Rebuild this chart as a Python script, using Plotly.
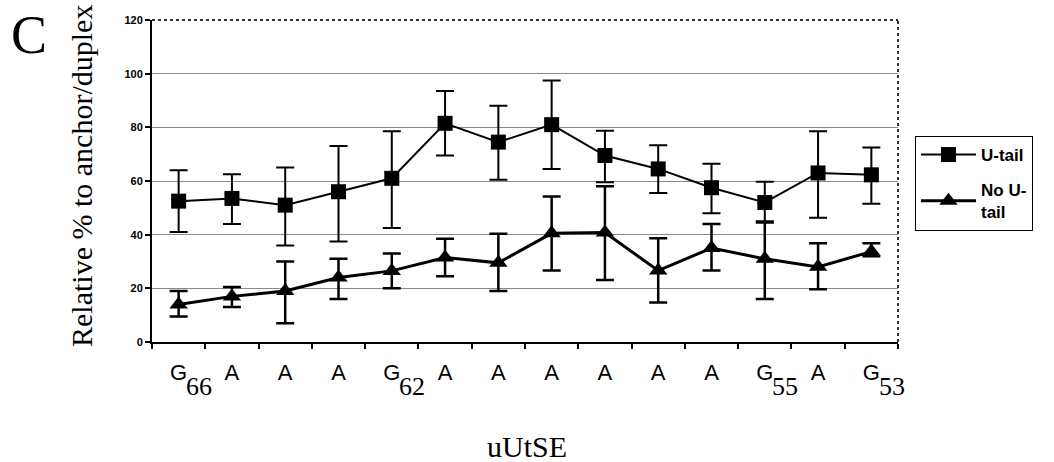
import plotly.graph_objects as go

categories = ["G66", "A", "A", "A", "G62", "A", "A", "A", "A", "A", "A", "G55", "A", "G53"]
tick_main = ["G", "A", "A", "A", "G", "A", "A", "A", "A", "A", "A", "G", "A", "G"]
tick_sub = ["66", "", "", "", "62", "", "", "", "", "", "", "55", "", "53"]

utail = [52.5, 53.5, 51, 56, 61, 81.5, 74.5, 81, 69.5, 64.5, 57.5, 52, 63, 62.3]
utail_hi = [64, 62.5, 65, 73, 78.5, 93.5, 88, 97.5, 78.7, 73.3, 66.4, 59.7, 78.5, 72.5]
utail_lo = [41, 44, 36, 37.5, 42.5, 69.5, 60.5, 64.5, 59.5, 55.5, 48, 45, 46.3, 51.5]

notail = [14, 17, 19, 24, 26.5, 31.5, 29.5, 40.5, 40.8, 26.6, 35, 31, 28, 33.7]
notail_hi = [19, 20.5, 30, 31, 33, 38.5, 40.3, 54.2, 58, 38.7, 44, 44.5, 36.8, 36.8]
notail_lo = [9.5, 13, 7, 16, 20, 24.5, 19, 26.6, 23.1, 14.7, 26.6, 16, 19.7, 32]

x = list(range(len(categories)))

def errs(v, hi, lo):
    return [h - a for a, h in zip(v, hi)], [a - l for a, l in zip(v, lo)]

up1, dn1 = errs(utail, utail_hi, utail_lo)
up2, dn2 = errs(notail, notail_hi, notail_lo)

SERIF = "Liberation Serif, Times New Roman, serif"
SANS = "Liberation Sans, Arial, sans-serif"

fig = go.Figure()
fig.add_trace(go.Scatter(
    x=x, y=utail, mode="lines+markers", name="U-tail", legendgroup="a",
    line=dict(color="black", width=2),
    marker=dict(symbol="square", size=15, color="black"),
    error_y=dict(type="data", array=up1, arrayminus=dn1, color="black", thickness=2, width=9),
))
fig.add_trace(go.Scatter(
    x=x, y=notail, mode="lines+markers", name="No U-<br>tail", legendgroup="b",
    line=dict(color="black", width=3),
    marker=dict(symbol="triangle-up", size=16, color="black"),
    error_y=dict(type="data", array=up2, arrayminus=dn2, color="black", thickness=2.5, width=9),
))

annotations = [
    dict(text="C", x=(29 - 152) / 746, y=(342 - 35) / 322, xref="paper", yref="paper",
         showarrow=False, xanchor="center", yanchor="middle",
         font=dict(size=54, family=SERIF)),
    dict(text="Relative % to anchor/duplex", x=(81 - 152) / 746, y=(342 - 176) / 322,
         xref="paper", yref="paper", textangle=-90, showarrow=False,
         xanchor="center", yanchor="middle", font=dict(size=30, family=SERIF)),
    dict(text="uUtSE", x=(527 - 152) / 746, y=(342 - 446) / 322, xref="paper", yref="paper",
         showarrow=False, xanchor="center", yanchor="middle",
         font=dict(size=30, family=SERIF)),
]
for xi, s in zip(x, tick_sub):
    if s:
        annotations.append(dict(
            text=s, x=xi + 0.38, y=(342 - 386) / 322, xref="x", yref="paper",
            showarrow=False, xanchor="center", yanchor="middle",
            font=dict(size=26, family=SERIF)))

fig.update_layout(
    width=1054, height=462,
    margin=dict(l=152, r=156, t=20, b=120),
    paper_bgcolor="white", plot_bgcolor="white",
    font=dict(family=SANS, color="black"),
    showlegend=True,
    legend=dict(
        x=(915 - 152) / 746, y=(342 - 136) / 322, xanchor="left", yanchor="top",
        bordercolor="black", borderwidth=1,
        font=dict(size=17, family=SANS, weight="bold"),
        tracegroupgap=10, itemwidth=55,
    ),
    xaxis=dict(
        range=[-0.5, 13.5], tickmode="array", tickvals=x, ticktext=tick_main,
        ticks="", showgrid=False, zeroline=False,
        showline=True, linecolor="black", linewidth=2, mirror=False,
        tickfont=dict(size=22, family=SANS),
        minor=dict(tickmode="linear", tick0=0.5, dtick=1, ticks="outside", ticklen=5,
                   tickcolor="black", tickwidth=1.5, showgrid=False),
        ticklabelstandoff=10,
    ),
    yaxis=dict(
        range=[0, 120], tickmode="linear", tick0=0, dtick=20,
        ticks="outside", ticklen=5, tickcolor="black", tickwidth=1.5,
        showgrid=True, gridcolor="#8a8a8a", gridwidth=1,
        zeroline=False, showline=True, linecolor="black", linewidth=2, mirror=False,
        tickfont=dict(size=11, family=SANS, weight="bold"),
    ),
    annotations=annotations,
    shapes=[
        dict(type="line", xref="paper", yref="paper", x0=1, x1=1, y0=0, y1=1,
             line=dict(color="#333333", width=2, dash="dot")),
        dict(type="line", xref="paper", yref="paper", x0=0, x1=1, y0=1, y1=1,
             line=dict(color="#333333", width=2, dash="dot")),
    ],
)

fig.write_html("out.html", config={"displayModeBar": False},
               post_script="document.body.style.margin='0';")
